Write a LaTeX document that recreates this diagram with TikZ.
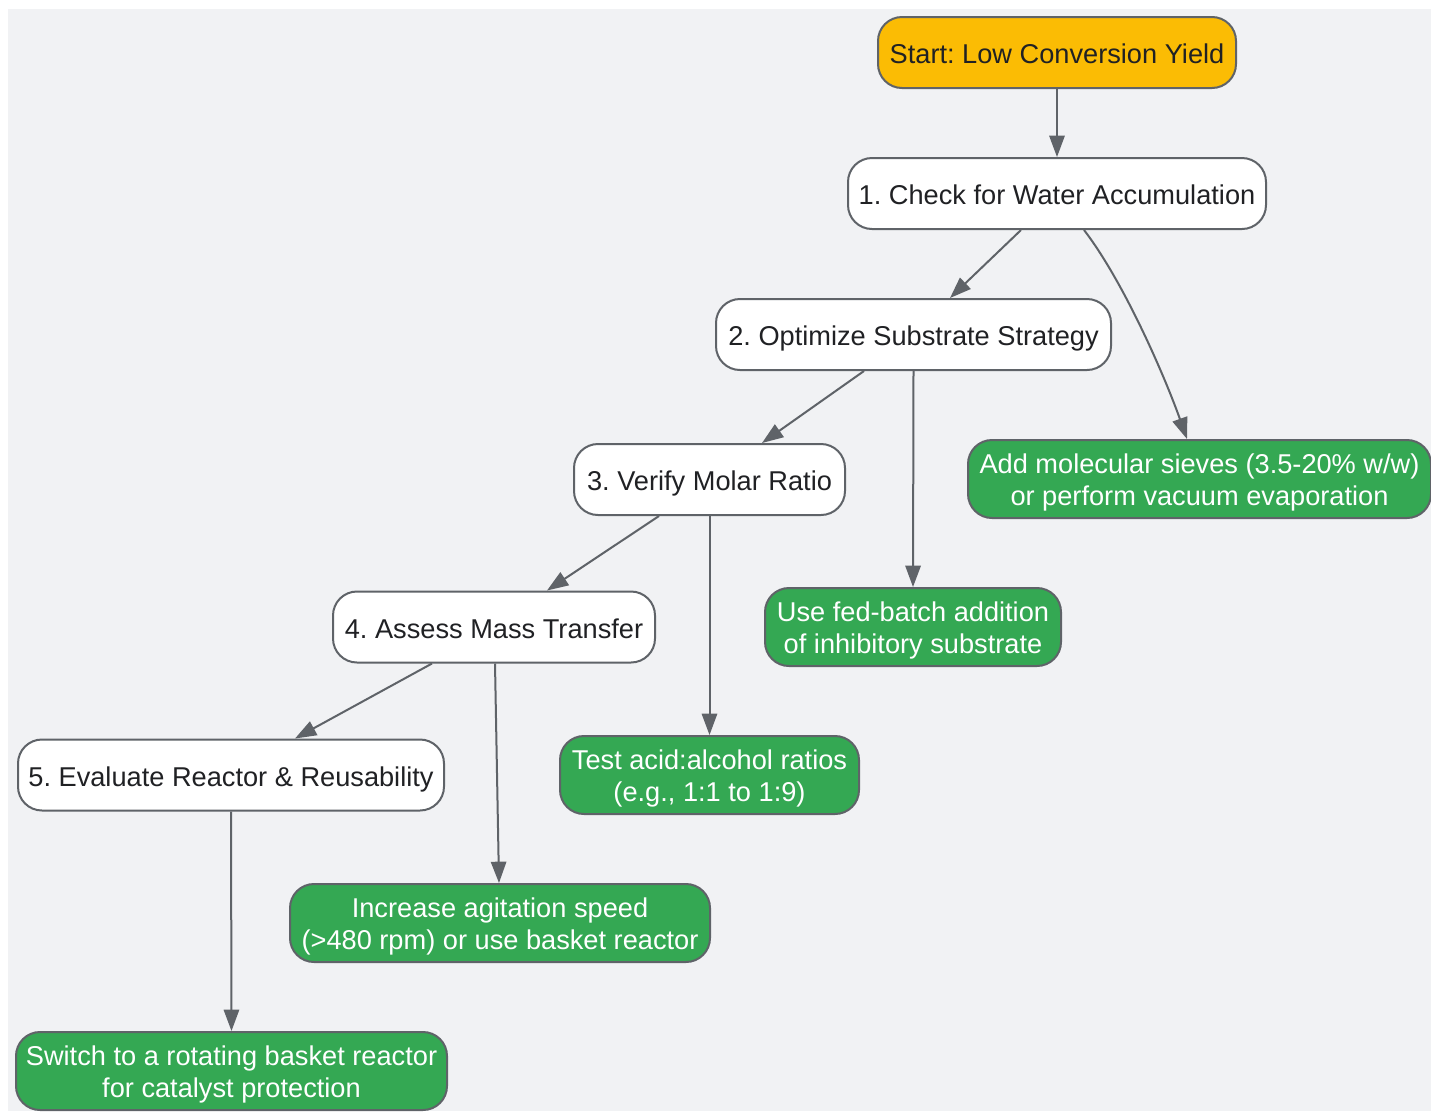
\documentclass[tikz,border=0pt]{standalone}
\usepackage{fontspec}
\setmainfont{Liberation Sans}
\usetikzlibrary{arrows.meta,calc}
\definecolor{bgc}{HTML}{F1F2F4}
\definecolor{edgec}{HTML}{5F6368}
\definecolor{txtc}{HTML}{202124}
\definecolor{yelc}{HTML}{FBBC04}
\definecolor{grnc}{HTML}{34A853}
\newcommand{\nodefs}{\frenchspacing\fontsize{20.4pt}{23.3pt}\selectfont}
\frenchspacing
\begin{document}
\begin{tikzpicture}[x=0.75pt,y=-0.75pt,
  box/.style={draw=edgec, line width=1.5pt, rounded corners=18pt, inner sep=0pt, align=center, font=\nodefs},
  whitebox/.style={box, fill=white, text=txtc, minimum height=53.25pt, text height=16.5pt, text depth=0pt},
  greenbox/.style={box, fill=grnc, text=white, minimum height=58.5pt, text height=39pt, text depth=0pt},
  startbox/.style={box, fill=yelc, text=txtc, minimum height=53.25pt, text height=16.5pt, text depth=0pt},
  conn/.style={draw=edgec, line width=1.5pt, -{Triangle[length=16pt,width=11.5pt]}}]
\useasboundingbox (0,0) rectangle (1431,1111);
\fill[bgc] (8,9) rectangle (1431,1111);

\node[startbox, minimum width=268.5pt] (st) at (1057,52.5) {Start: Low Conversion Yield};
\node[whitebox, minimum width=313.5pt] (n1) at (1057,193.5) {1. Check for Water Accumulation};
\node[whitebox, minimum width=296.25pt] (n2) at (913.5,334.5) {2. Optimize Substrate Strategy};
\node[greenbox, minimum width=347.25pt] (sv) at (1199.5,479) {Add molecular sieves (3.5-20\% w/w)\\or perform vacuum evaporation};
\node[whitebox, minimum width=203.25pt] (n3) at (709.5,479.5) {3. Verify Molar Ratio};
\node[greenbox, minimum width=222pt] (fb) at (913,627) {Use fed-batch addition\\of inhibitory substrate};
\node[whitebox, minimum width=241.5pt] (n4) at (494,627) {4. Assess Mass Transfer};
\node[greenbox, minimum width=224.25pt] (ta) at (709.5,775) {Test acid:alcohol ratios\\(e.g., 1:1 to 1:9)};
\node[whitebox, minimum width=319.5pt] (n5) at (231,775) {5. Evaluate Reactor \& Reusability};
\node[greenbox, minimum width=315pt] (inc) at (500,923) {Increase agitation speed\\(>480 rpm) or use basket reactor};
\node[greenbox, minimum width=323.25pt] (sw) at (231.5,1071) {Switch to a rotating basket reactor\\for catalyst protection};

\draw[conn] (st.south) -- (n1.north);
\draw[conn] ($(n1.south)+(-36,0)$) -- ($(n2.north)+(36.5,0)$);
\coordinate (a1) at ($(n1.south)+(27,0)$);
\coordinate (a2) at ($(sv.north)+(-12.5,0)$);
\draw[conn] (a1) .. controls ($(a1)+(40,52)$) and ($(a2)+(-22,-62)$) .. (a2);
\draw[conn] ($(n2.south)+(-49.5,0)$) -- ($(n3.north)+(52.5,0)$);
\draw[conn] (n2.south) -- (fb.north);
\draw[conn] ($(n3.south)+(-50.5,0)$) -- ($(n4.north)+(53,0)$);
\draw[conn] (n3.south) -- (ta.north);
\draw[conn] ($(n4.south)+(-62,0)$) -- ($(n5.north)+(64,0)$);
\draw[conn] ($(n4.south)+(1,0)$) -- ($(inc.north)+(-1,0)$);
\draw[conn] (n5.south) -- (sw.north);
\end{tikzpicture}
\end{document}
